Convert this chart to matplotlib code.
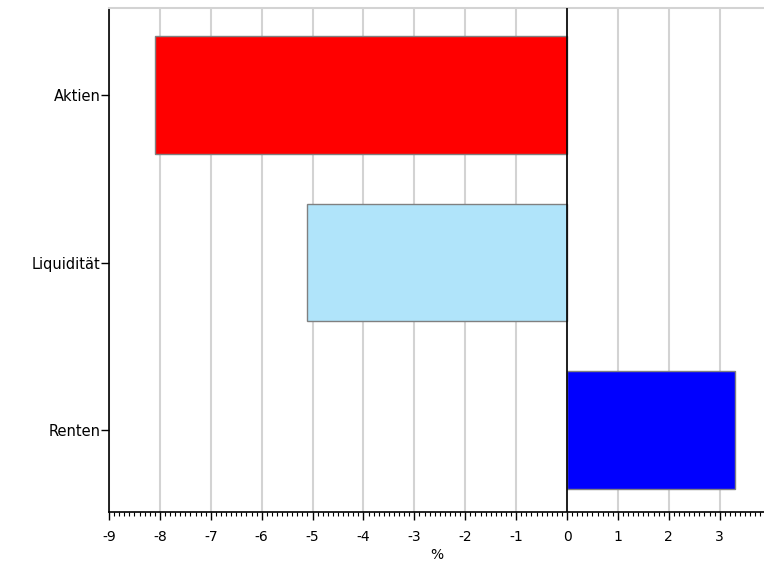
import numpy as np
import matplotlib
matplotlib.use("Agg")
import matplotlib.pyplot as plt
from matplotlib.ticker import MultipleLocator

categories = ["Renten", "Liquidität", "Aktien"]
values = [3.3, -5.1, -8.1]
colors = ["#0000ff", "#b0e4fa", "#ff0000"]
x_ticks = list(range(-9, 4))


def main():
    fig = plt.figure(figsize=(7.64, 5.66), dpi=100)
    ax = fig.add_axes([109 / 764, 54 / 566, 1 - 109 / 764, 504 / 566])

    y_pos = np.arange(len(categories))
    ax.barh(y_pos, values, height=0.7, color=colors,
            edgecolor="#808080", linewidth=1.0, zorder=3)

    ax.set_xlim(-9, 3.87)
    ax.set_ylim(-0.49, 2.52)

    ax.set_xticks(x_ticks)
    ax.set_xticklabels([str(t) for t in x_ticks])
    ax.xaxis.set_minor_locator(MultipleLocator(0.1))
    ax.set_yticks(y_pos)
    ax.set_yticklabels(categories)

    ax.grid(axis="x", which="major", color="#d3d3d3", linewidth=1.5, zorder=0)
    ax.axvline(0, color="black", linewidth=1.2, zorder=4)

    ax.spines["right"].set_visible(False)
    ax.spines["top"].set_color("#d3d3d3")
    ax.spines["top"].set_linewidth(1.5)
    for side in ["left", "bottom"]:
        ax.spines[side].set_color("black")
        ax.spines[side].set_linewidth(1.2)

    ax.tick_params(axis="x", which="major", length=6, width=1, labelsize=10, pad=7)
    ax.tick_params(axis="x", which="minor", length=3, width=0.8)
    ax.tick_params(axis="y", length=6, width=1, labelsize=10.5, pad=0)

    ax.set_xlabel("%", fontsize=10, labelpad=3)

    fig.savefig("out.png", dpi=100)


if __name__ == "__main__":
    main()
